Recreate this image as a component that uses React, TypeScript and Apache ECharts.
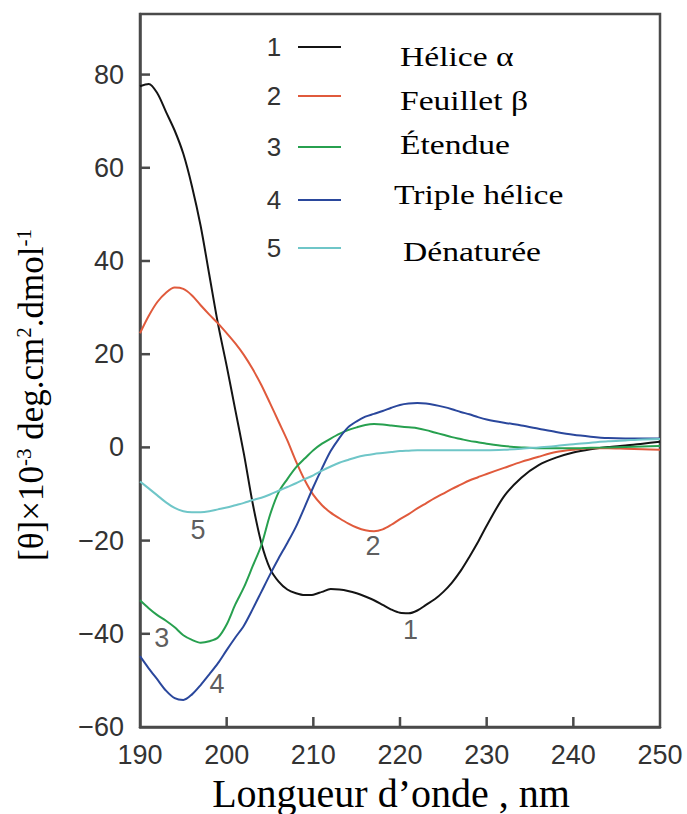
import React, { useEffect, useRef } from 'react';
import * as echarts from 'echarts';

// Wavelength (nm)
const wavelengths = [
  190, 191, 192, 193, 194, 195, 196, 197, 198, 199,
  200, 201, 202, 203, 204, 205, 206, 207, 208, 209,
  210, 211, 212, 213, 214, 215, 216, 217, 218, 219,
  220, 221, 222, 223, 224, 225, 226, 227, 228, 229,
  230, 232, 234, 236, 238, 240, 242, 244, 246, 248, 250,
];

// 1 - Hélice α
const heliceAlpha = [
  77.5, 78, 76, 72, 68, 63, 56, 47.5, 37, 26.5,
  17.5, 8, -1.5, -12, -20.5, -26, -28.8, -30.5, -31.3, -31.7,
  -31.6, -31, -30.4, -30.5, -30.8, -31.3, -32, -32.8, -33.8, -34.8,
  -35.5, -35.6, -35, -33.8, -32.6, -31, -29, -26.5, -23.5, -20.3,
  -16.8, -10.5, -6.5, -3.8, -2.2, -1.1, -0.4, 0.1, 0.4, 0.8, 1.2,
];

// 2 - Feuillet β
const feuilletBeta = [
  24.5, 28.2, 31.2, 33.2, 34.3, 34, 32.6, 30.5, 28.5, 26.6,
  24.5, 22.3, 19.8, 16.8, 13.4, 9.5, 5.5, 1.5, -3, -7,
  -10.2, -12.4, -14, -15.2, -16.3, -17.2, -17.8, -18, -17.6, -16.6,
  -15.4, -14.3, -13.1, -12, -10.9, -9.9, -8.9, -8, -7.1, -6.4,
  -5.7, -4.4, -3.1, -2, -1, -0.5, -0.2, -0.2, -0.3, -0.4, -0.5,
];

// 3 - Étendue
const etendue = [
  -32.8, -34.5, -36, -37.2, -38.6, -40.3, -41.3, -41.9, -41.6, -40.8,
  -38, -33.7, -30, -25.5, -21, -14.5, -9.6, -6.8, -4.3, -2.4,
  -0.6, 0.8, 1.9, 2.9, 3.7, 4.3, 4.8, 5, 4.9, 4.7,
  4.5, 4.3, 4.1, 3.7, 3.2, 2.7, 2.2, 1.8, 1.4, 1.1,
  0.8, 0.3, 0, -0.2, -0.2, -0.2, -0.1, 0, 0.1, 0.2, 0.3,
];

// 4 - Triple hélice
const tripleHelice = [
  -44.8, -47.4, -49.8, -52.2, -53.8, -54.2, -53, -51, -48.7, -46.3,
  -43.5, -40.8, -38.2, -34.7, -31, -27.3, -23.8, -20.5, -17, -12.8,
  -8.5, -4.5, -0.8, 2, 4.3, 5.6, 6.6, 7.2, 7.8, 8.5,
  9.1, 9.4, 9.5, 9.4, 9.1, 8.7, 8.2, 7.6, 7.1, 6.5,
  6, 5.3, 4.7, 4, 3.3, 2.7, 2.3, 2, 1.9, 1.9, 1.9,
];

// 5 - Dénaturée
const denaturee = [
  -7.3, -8.8, -10.3, -11.8, -13, -13.7, -13.9, -13.9, -13.7, -13.3,
  -12.9, -12.4, -11.9, -11.3, -10.8, -10.1, -9.3, -8.5, -7.7, -6.8,
  -6, -5, -4.1, -3.3, -2.7, -2.1, -1.7, -1.4, -1.2, -1,
  -0.8, -0.7, -0.6, -0.6, -0.6, -0.6, -0.6, -0.6, -0.6, -0.6,
  -0.6, -0.5, -0.3, 0, 0.3, 0.7, 1, 1.3, 1.5, 1.7, 1.8,
];

const seriesNumbers = ['1', '2', '3', '4', '5'];
const seriesNames = ['Hélice α', 'Feuillet β', 'Étendue', 'Triple hélice', 'Dénaturée'];
const seriesColors = ['#141414', '#e05a3c', '#27a04f', '#2a479c', '#6fc6c8'];
const seriesValues = [heliceAlpha, feuilletBeta, etendue, tripleHelice, denaturee];

// Curve number annotations (data coordinates)
const curveLabelX = [221.2, 216.9, 192.5, 198.9, 196.7];
const curveLabelY = [-39.2, -21.2, -40.9, -50.8, -17.8];

// Axis ranges and tick values
const xMin = 190;
const xMax = 250;
const yMin = -60;
const yMax = 93;
const xTickValues = [200, 210, 220, 230, 240];
const yTickValues = [-40, -20, 0, 20, 40, 60, 80];

const xTitle = 'Longueur d\u2019onde , nm';

export default function App() {
  const ref = useRef<HTMLDivElement>(null);

  useEffect(() => {
    document.body.style.margin = '0';
    const chart = echarts.init(ref.current!, null, { renderer: 'svg' });

    const axisColor = '#4a4a4a';
    const sans = 'Liberation Sans, Arial, sans-serif';
    const serif = 'Liberation Serif, Times New Roman, serif';

    const lineSeries = seriesValues.map((vals, i) => ({
      type: 'line',
      name: seriesNames[i],
      data: wavelengths.map((w, j) => [w, vals[j]]),
      showSymbol: false,
      smooth: 0.3,
      lineStyle: { color: seriesColors[i], width: 2 },
      itemStyle: { color: seriesColors[i] },
      z: 3,
    }));

    const labelSeries = {
      type: 'scatter',
      symbolSize: 0,
      silent: true,
      data: seriesNumbers.map((n, i) => ({ name: n, value: [curveLabelX[i], curveLabelY[i]] })),
      label: {
        show: true,
        position: 'inside',
        formatter: '{b}',
        color: '#333',
        fontFamily: sans,
        fontSize: 27,
      },
      z: 4,
    };

    // Inward ticks drawn through the axes' own scales
    const tickData = [
      ...xTickValues.map((v) => [v, yMin, 0]),
      ...yTickValues.map((v) => [xMin, v, 1]),
    ];
    const tickSeries = {
      type: 'custom',
      silent: true,
      clip: false,
      z: 5,
      data: tickData,
      encode: { x: 0, y: 1 },
      renderItem: (_params: any, api: any) => {
        const p = api.coord([api.value(0), api.value(1)]);
        const isY = api.value(2) === 1;
        return {
          type: 'line',
          shape: isY
            ? { x1: p[0], y1: p[1], x2: p[0] + 10, y2: p[1] }
            : { x1: p[0], y1: p[1], x2: p[0], y2: p[1] - 10 },
          style: { stroke: axisColor, lineWidth: 2.5 },
        };
      },
    };

    const legendNumY = [47, 96, 147, 200, 248];
    const legendTextY = [56, 100, 144, 194, 251];
    const legendTextX = [400, 400, 400, 394, 403];

    const legendGraphics: any[] = [];
    seriesNumbers.forEach((n, i) => {
      legendGraphics.push({
        type: 'text',
        x: 274,
        y: legendNumY[i],
        style: {
          text: n,
          fill: '#333',
          font: `26px ${sans}`,
          align: 'center',
          verticalAlign: 'middle',
        },
      });
      legendGraphics.push({
        type: 'line',
        shape: { x1: 298, y1: legendNumY[i], x2: 341, y2: legendNumY[i] },
        style: { stroke: seriesColors[i], lineWidth: 2 },
      });
      legendGraphics.push({
        type: 'text',
        x: legendTextX[i],
        y: legendTextY[i],
        scaleX: 1.2,
        style: {
          text: seriesNames[i],
          fill: '#000',
          font: `28px ${serif}`,
          align: 'left',
          verticalAlign: 'middle',
        },
      });
    });

    const option: any = {
      animation: false,
      backgroundColor: '#fff',
      grid: {
        left: 140,
        right: 27,
        top: 14,
        bottom: 87,
        show: true,
        borderColor: axisColor,
        borderWidth: 2.5,
      },
      xAxis: {
        type: 'value',
        min: xMin,
        max: xMax,
        interval: 10,
        axisLine: { show: true, onZero: false, lineStyle: { color: axisColor, width: 2.5 } },
        axisTick: { show: false },
        splitLine: { show: false },
        axisLabel: {
          color: '#333',
          fontFamily: sans,
          fontSize: 27,
          margin: 14,
        },
      },
      yAxis: {
        type: 'value',
        min: yMin,
        max: yMax,
        interval: 20,
        axisLine: { show: true, onZero: false, lineStyle: { color: axisColor, width: 2.5 } },
        axisTick: { show: false },
        splitLine: { show: false },
        axisLabel: {
          color: '#333',
          fontFamily: sans,
          fontSize: 27,
          margin: 16,
          showMaxLabel: false,
          formatter: (v: number) => String(v).replace('-', '\u2212'),
        },
      },
      series: [...lineSeries, labelSeries, tickSeries],
      graphic: [
        ...legendGraphics,
        {
          type: 'text',
          x: 391,
          y: 793,
          style: {
            text: xTitle,
            fill: '#000',
            font: `40px ${serif}`,
            align: 'center',
            verticalAlign: 'middle',
          },
        },
        {
          type: 'text',
          x: 31,
          y: 395,
          rotation: Math.PI / 2,
          style: {
            text: '{a|[\u03b8]\u00d710}{s|-3}{a| deg.cm}{s|2}{a|.dmol}{s|-1}',
            align: 'center',
            verticalAlign: 'middle',
            rich: {
              a: { fontFamily: serif, fontSize: 35, fill: '#000', color: '#000' },
              s: { fontFamily: serif, fontSize: 21, fill: '#000', color: '#000', verticalAlign: 'top' },
            },
          },
        },
      ],
    };

    chart.setOption(option);
    return () => chart.dispose();
  }, []);

  return (
    <div
      ref={ref}
      style={{ position: 'absolute', left: 0, top: 0, width: 687, height: 814 }}
    />
  );
}
